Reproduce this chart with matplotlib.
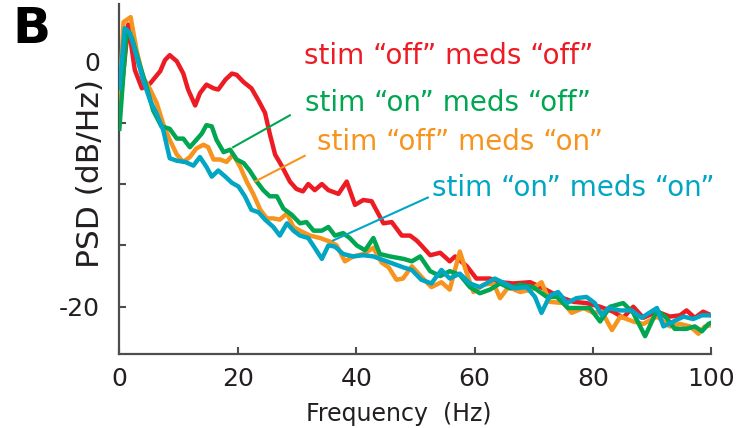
import numpy as np
import matplotlib
matplotlib.use("Agg")
import matplotlib.pyplot as plt

# values, frequency in Hz and PSD in dB/Hz
red_f = [0, 1.5, 2.6, 3.8, 5.2, 6.9, 7.7, 8.5, 9.7, 10.8, 11.6, 12.8, 13.6, 14.7, 15.9,
         16.7, 17.9, 19.0, 19.8, 21.0, 22.3, 23.5, 24.6, 25.4, 26.3, 27.4, 28.8, 29.9, 31.0, 31.9,
         33.0, 34.2, 35.3, 37.0, 38.4, 39.8, 41.2, 42.6, 44.6, 46.0, 47.7, 49.1, 50.2, 51.0, 52.5,
         54.2, 55.8, 56.7, 58.7, 60.3, 62.6, 64.3, 66.5, 69.4, 71.6, 74.4, 76.7, 78.9, 81.2, 83.4,
         85.1, 86.8, 88.5, 90.8, 93.0, 94.7, 95.8, 97.2, 98.6, 100]
red_db = [-4.0, 3.0, -0.7, -2.2, -1.8, -0.8, 0.1, 0.5, 0.0, -1.0, -2.3, -3.6, -2.6, -1.9, -2.2,
          -2.3, -1.5, -1.0, -1.1, -1.7, -2.2, -3.2, -4.2, -5.9, -7.6, -8.5, -9.8, -10.4, -10.6, -10.0,
          -10.5, -10.0, -10.5, -10.8, -9.8, -11.7, -11.3, -11.4, -13.2, -13.1, -14.2, -14.2, -14.6, -15.0, -15.8,
          -15.6, -16.3, -15.9, -16.7, -17.7, -17.7, -18.0, -18.1, -18.0, -18.5, -19.2, -19.6, -19.7, -20.0, -20.4,
          -20.9, -20.0, -20.9, -20.4, -20.8, -20.7, -20.3, -20.9, -20.4, -20.7]

green_f = [0, 1.2, 2.1, 3.5, 4.6, 5.7, 7.1, 8.5, 9.7, 10.8, 11.9, 13.0, 13.9, 14.7, 15.6,
           16.4, 17.6, 18.7, 19.8, 21.0, 22.0, 23.2, 24.3, 25.4, 26.6, 27.7, 29.1, 30.5, 31.6, 32.8,
           34.2, 35.3, 36.4, 37.8, 38.9, 40.1, 41.5, 42.9, 44.0, 45.7, 48.0, 49.4, 50.8, 52.5, 54.2,
           55.8, 57.5, 59.2, 60.9, 62.6, 64.3, 66.0, 67.7, 69.9, 72.2, 73.9, 75.8, 77.8, 79.5, 81.2,
           82.9, 85.1, 86.8, 88.8, 90.8, 92.4, 93.8, 95.8, 97.2, 98.4, 99.5, 100]
green_db = [-5.5, 2.4, 1.9, -0.4, -2.1, -4.0, -5.3, -5.5, -6.3, -6.3, -7.0, -6.4, -5.9, -5.2, -5.3,
            -6.4, -7.4, -7.2, -8.0, -8.3, -8.9, -9.8, -10.5, -11.0, -11.0, -12.0, -12.5, -13.2, -13.1, -13.8,
            -13.8, -13.5, -14.2, -14.0, -14.4, -15.0, -15.4, -14.4, -15.7, -15.9, -16.1, -16.3, -15.9, -17.1, -17.5,
            -17.1, -17.4, -18.4, -18.9, -18.6, -18.1, -18.5, -18.2, -18.4, -19.2, -19.2, -20.1, -20.1, -20.1, -21.2,
            -20.0, -19.7, -20.5, -22.4, -20.3, -20.9, -21.8, -21.8, -21.6, -22.0, -21.4, -21.3]

orange_f = [0, 0.7, 1.9, 2.9, 4.0, 5.2, 6.3, 7.4, 8.5, 9.7, 10.8, 11.9, 13.0, 14.2, 15.0,
            15.9, 17.0, 18.1, 19.2, 20.4, 21.5, 22.6, 23.8, 24.9, 26.0, 27.1, 28.3, 29.4, 30.5, 32.2,
            33.9, 35.6, 36.7, 38.1, 39.5, 41.2, 42.9, 44.3, 45.5, 46.8, 47.9, 49.4, 51.3, 52.7, 54.4,
            55.8, 57.5, 58.7, 59.8, 61.5, 63.2, 64.3, 65.7, 67.7, 69.6, 71.3, 72.7, 75.0, 76.4, 78.4,
            80.1, 81.5, 83.2, 84.6, 86.8, 88.5, 90.8, 93.0, 94.7, 96.4, 97.8, 98.9, 100]
orange_db = [-3.2, 3.2, 3.6, 0.9, -1.3, -2.3, -3.4, -5.1, -6.4, -7.6, -8.2, -7.8, -7.1, -6.8, -7.0,
             -8.0, -8.0, -8.2, -7.6, -8.6, -9.8, -10.8, -12.1, -12.8, -12.8, -12.9, -12.4, -13.5, -13.8, -14.2,
             -14.4, -14.7, -15.0, -16.3, -15.9, -15.7, -15.2, -16.4, -16.8, -17.8, -17.7, -16.7, -17.7, -18.4, -18.0,
             -18.6, -15.5, -17.3, -18.8, -18.2, -18.1, -19.3, -18.4, -18.8, -18.6, -18.0, -19.6, -19.7, -20.5, -20.1,
             -20.5, -20.4, -21.9, -20.8, -21.2, -21.4, -20.8, -21.6, -21.4, -21.6, -22.2, -21.6, -21.5]

cyan_f = [0, 0.9, 1.8, 2.9, 4.0, 5.2, 6.3, 7.4, 8.5, 9.7, 11.1, 12.5, 13.6, 14.7, 15.6,
          16.7, 17.9, 19.0, 20.1, 21.2, 22.3, 23.5, 24.6, 26.0, 27.1, 28.3, 29.4, 30.5, 31.9, 33.0,
          34.2, 35.3, 36.4, 37.8, 39.5, 41.2, 42.9, 44.6, 46.3, 48.0, 49.4, 51.0, 52.7, 54.4, 55.8,
          57.5, 59.2, 60.9, 62.0, 63.4, 65.1, 66.8, 68.8, 70.2, 71.3, 72.7, 74.1, 75.6, 77.2, 78.9,
          80.3, 81.5, 82.6, 84.6, 86.5, 88.2, 90.8, 91.9, 93.6, 95.3, 96.9, 98.4, 100]
cyan_db = [-2.2, 2.7, 2.3, 0.4, -1.5, -3.2, -4.3, -5.6, -7.9, -8.1, -8.2, -8.5, -7.8, -8.6, -9.4,
           -8.9, -9.4, -9.9, -10.2, -11.0, -12.1, -12.3, -12.9, -13.5, -14.2, -13.2, -13.8, -14.2, -14.4, -15.2,
           -16.1, -15.0, -15.1, -15.7, -15.9, -15.8, -15.9, -16.2, -16.5, -16.8, -17.0, -17.8, -18.1, -17.0, -17.7,
           -17.3, -18.1, -18.4, -18.1, -17.7, -18.1, -18.5, -18.4, -19.2, -20.5, -19.1, -18.8, -19.7, -19.3, -19.2,
           -19.7, -20.7, -20.1, -20.3, -20.3, -20.9, -20.1, -21.6, -21.2, -20.8, -21.0, -20.7, -20.7]

labels = ['stim \u201coff\u201d meds \u201coff\u201d', 'stim \u201con\u201d meds \u201coff\u201d',
          'stim \u201coff\u201d meds \u201con\u201d', 'stim \u201con\u201d meds \u201con\u201d']
xticks = [0, 20, 40, 60, 80, 100]
yticks = [-20, -15, -10, -5, 0]
ytick_labels = ['-20', '', '', '', '0']

RED = '#ed1c24'
GREEN = '#00a651'
ORANGE = '#f7941d'
CYAN = '#00a6c4'
AXC = '#4d4d4d'

fig = plt.figure(figsize=(7.47, 4.28), dpi=100)
ax = fig.add_axes([119.4 / 747, 74 / 428, 592 / 747, 350 / 428])

lw = 3.2
ax.plot(red_f, red_db, color=RED, lw=lw, zorder=2)
ax.plot(orange_f, orange_db, color=ORANGE, lw=lw, zorder=3)
ax.plot(green_f, green_db, color=GREEN, lw=lw, zorder=4)
ax.plot(cyan_f, cyan_db, color=CYAN, lw=lw, zorder=5)

# leader lines from labels to curves
ax.plot([28.8, 19.2], [-4.4, -7.0], color=GREEN, lw=1.5, zorder=6)
ax.plot([31.3, 22.9], [-7.7, -9.8], color=ORANGE, lw=1.5, zorder=6)
ax.plot([52.1, 36.1], [-11.1, -14.6], color=CYAN, lw=1.5, zorder=6)

fs = 20
ax.text(31.2, -0.2, labels[0], color=RED, fontsize=fs, va='baseline', ha='left')
ax.text(31.3, -4.05, labels[1], color=GREEN, fontsize=fs, va='baseline', ha='left')
ax.text(33.4, -7.2, labels[2], color=ORANGE, fontsize=fs, va='baseline', ha='left')
ax.text(52.8, -10.95, labels[3], color=CYAN, fontsize=fs, va='baseline', ha='left')

ax.set_xlim(0, 100)
ax.set_ylim(-23.85, 4.67)
ax.set_xticks(xticks)
ax.set_xticklabels([str(t) for t in xticks])
ax.set_yticks(yticks)
ax.set_yticklabels(ytick_labels)

for s in ['top', 'right']:
    ax.spines[s].set_visible(False)
for s in ['left', 'bottom']:
    ax.spines[s].set_color(AXC)
    ax.spines[s].set_linewidth(1.6)
ax.tick_params(direction='in', length=5, width=1.5, color=AXC, labelsize=18,
               labelcolor='#231f20')
ax.tick_params(axis='x', pad=9.5)
ax.tick_params(axis='y', pad=14)

fig.text(399 / 747, 1 - 421.5 / 428, 'Frequency  (Hz)', fontsize=17, ha='center',
         va='baseline', color='#231f20')
fig.text(105.5 / 747, 1 - 173 / 428, 'PSD (dB/Hz)', fontsize=22.5, rotation=90,
         ha='right', va='center', color='#231f20')
fig.text(12 / 747, 1 - 43.3 / 428, 'B', fontsize=36, fontweight='bold', va='baseline',
         color='black')

fig.savefig('out.png', dpi=100)
